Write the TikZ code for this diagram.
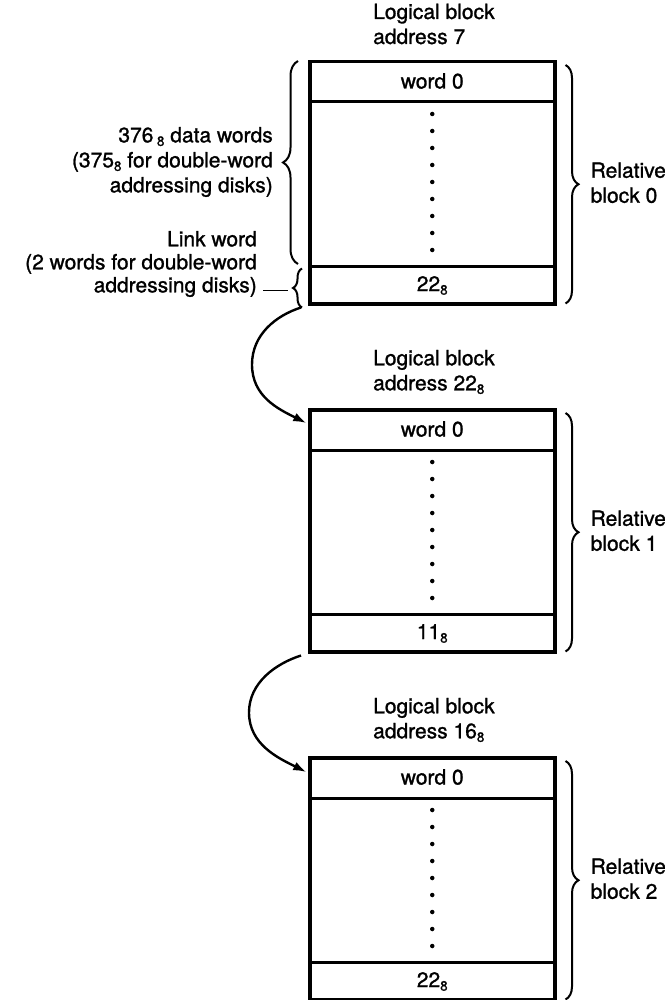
\documentclass[tikz,border=0pt]{standalone}
\usepackage{fontspec}
\setmainfont{TeX Gyre Heros}[FakeBold=1.2]
\usetikzlibrary{decorations.pathreplacing,arrows.meta,calc}
\newcommand\myoct[1]{\raisebox{-3.5pt}{\fontsize{13.5}{13.5}\selectfont #1}}
\begin{document}
\begin{tikzpicture}[x=1pt,y=-1pt,
  txt/.style={font=\fontsize{21}{25}\selectfont, inner sep=0pt},
  blockbox/.style={draw, line width=3.5pt, minimum width=245pt, minimum height=242pt, inner sep=0pt, anchor=north west},
  rowline/.style={line width=3pt},
  bracestyle/.style={decorate, decoration={brace, amplitude=#1}, line width=2pt},
  bracestyle/.default=13pt,
  linkarrow/.style={line width=2.4pt, -{Latex[length=13pt,width=9pt]}},
  dotstyle/.style={fill, circle, inner sep=0pt, minimum size=4.5pt},
  leader/.style={line width=1.6pt}]
\useasboundingbox (0,0) rectangle (664,1000);

\foreach \i/\ty/\addr/\val in {0/60/{7}/22, 1/408/{22\myoct{8}}/11, 2/756/{16\myoct{8}}/22}{
  \node[blockbox] (b\i) at (308,\ty) {};
  \draw[rowline] ($(b\i.north west)+(0,42)$) -- ($(b\i.north east)+(0,42)$);
  \draw[rowline] ($(b\i.south west)+(0,-39)$) -- ($(b\i.south east)+(0,-39)$);
  \node[txt] at ($(b\i.north)+(0,21)$) {word 0};
  \node[txt] at ($(b\i.south)+(0,-20)$) {\val\myoct{8}};
  \foreach \k in {0,...,8}{
    \node[dotstyle] at ($(b\i.north)+(0,54+17*\k)$) {};
  }
  \node[txt, anchor=west, align=left] at ($(b\i.north west)+(65,-36)$) {Logical block\\address \addr};
  \draw[bracestyle] ($(b\i.north east)+(9,5)$) -- ($(b\i.south east)+(9,-2)$);
  \node[txt, anchor=west, align=left] at ($(b\i.east)+(34,0)$) {Relative\\block \i};
}

% left braces on block 0
\draw[bracestyle=15pt] ($(b0.north west)+(-10,204)$) -- ($(b0.north west)+(-10,1)$);
\draw[bracestyle=9pt] ($(b0.south west)+(-6,2)$) -- ($(b0.south west)+(-6,-37)$);

\node[txt, anchor=east, align=right] (dw) at ($(b0.north west)+(-35,102)$)
  {376\,\myoct{8} data words\\(375\myoct{8} for double-word\\addressing disks)};
\node[txt, anchor=east, align=right, font=\fontsize{21}{23}\selectfont] (lw) at ($(b0.north west)+(-51,204)$)
  {Link word\\(2 words for double-word\\addressing disks)};
\coordinate (lwend) at ($(b0.south west)+(-45,-15)$);
\coordinate (lwtip) at ($(b0.south west)+(-20,-15)$);
\draw[leader] (lwend) -- (lwtip);

% link arrows
\draw[linkarrow] ($(b0.south west)+(-7,2)$) .. controls +(-25,8) and +(0,-30) .. ($(b0.south west)+(-56,59)$)
  .. controls +(0,32) and +(-28,-14) .. ($(b1.north west)+(-1.75,15)$);
\draw[linkarrow] ($(b1.south west)+(-7,2)$) .. controls +(-25,8) and +(0,-30) .. ($(b1.south west)+(-59,59)$)
  .. controls +(0,32) and +(-28,-14) .. ($(b2.north west)+(-1.75,16)$);
\end{tikzpicture}
\end{document}
